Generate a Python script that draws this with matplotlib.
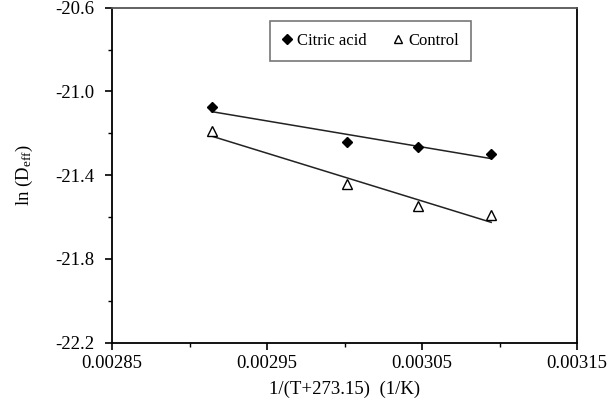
import numpy as np
import matplotlib
matplotlib.use("Agg")
import matplotlib.pyplot as plt
from matplotlib.ticker import FormatStrFormatter

plt.rcParams['font.family'] = ['Liberation Serif', 'DejaVu Serif']
plt.rcParams['mathtext.fontset'] = 'custom'
plt.rcParams['mathtext.rm'] = 'Liberation Serif'
plt.rcParams['mathtext.it'] = 'Liberation Serif:italic'

# temperatures (C) -> 1/(T+273.15)
temps = [70, 60, 55, 50]
inv_t = [1.0 / (t + 273.15) for t in temps]

ln_deff_citric = [-21.077, -21.241, -21.268, -21.300]
ln_deff_control = [-21.191, -21.443, -21.547, -21.590]

x_ticks = [0.00285, 0.00295, 0.00305, 0.00315]
x_minor = [0.0029, 0.0030, 0.0031]
y_ticks = [-22.2, -21.8, -21.4, -21.0, -20.6]
y_minor = [-22.0, -21.6, -21.2, -20.8]

fig = plt.figure(figsize=(6.16, 4.03), dpi=100)
ax = fig.add_axes([0.182, 0.150, 0.755, 0.831])

x = np.array(inv_t)
xx = np.array([x.min(), x.max()])

# trend lines
for yv in (ln_deff_citric, ln_deff_control):
    p = np.polyfit(x, yv, 1)
    ax.plot(xx, np.polyval(p, xx), color='#222222', lw=1.1, zorder=2)

ax.plot(x, ln_deff_citric, 'D', color='black', markersize=5.5,
        label='Citric acid', zorder=3)
ax.plot(x, ln_deff_control, '^', markerfacecolor='white',
        markeredgecolor='black', markeredgewidth=1.0, markersize=7,
        label='Control', zorder=3)

ax.set_xlim(0.00285, 0.00315)
ax.set_ylim(-22.2, -20.6)
ax.set_xticks(x_ticks)
ax.set_xticks(x_minor, minor=True)
ax.set_yticks(y_ticks)
ax.set_yticks(y_minor, minor=True)
ax.xaxis.set_major_formatter(FormatStrFormatter('%.5f'))
ax.yaxis.set_major_formatter(FormatStrFormatter('%.1f'))

ax.tick_params(which='major', direction='out', length=5, width=1.2,
               labelsize=13.5)
ax.tick_params(axis='x', which='major', pad=4)
ax.tick_params(axis='y', which='major', pad=8)
ax.tick_params(which='minor', direction='out', length=3, width=1.0)
for s in ax.spines.values():
    s.set_linewidth(1.3)
ax.spines['top'].set_color('#555555')

ax.set_xlabel('1/(T+273.15)  (1/K)', fontsize=13.5, labelpad=6)
ax.set_ylabel(r'ln (D$_{\mathrm{eff}}$)', fontsize=13.5, labelpad=14)

leg = ax.legend(loc='upper left', bbox_to_anchor=(0.322, 0.984), ncol=2,
                fontsize=12, frameon=True, fancybox=False,
                handlelength=0.6, handletextpad=0.3, columnspacing=1.6,
                borderpad=0.7, markerscale=0.85)
leg.get_frame().set_edgecolor('#555555')
leg.get_frame().set_linewidth(1.2)

fig.savefig('out.png', dpi=100, facecolor='white')
